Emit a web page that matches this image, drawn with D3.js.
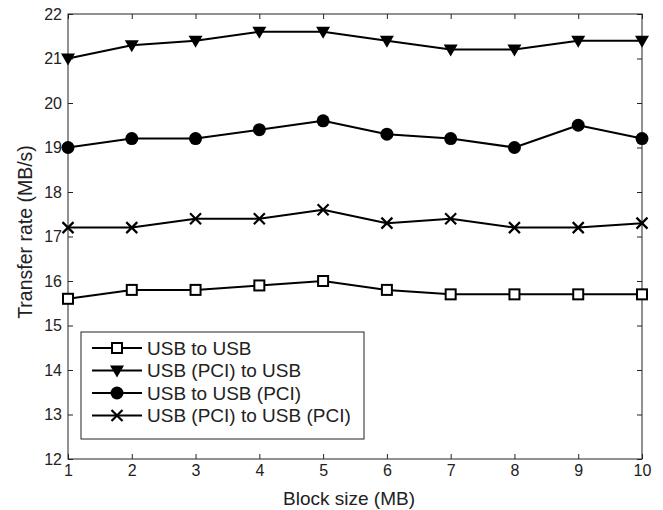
<html><head>
<script src="https://d3js.org/d3.v7.min.js"></script>
<style>
  body { margin: 0; background: #fff; }
  svg text { font-family: "Liberation Sans", Arial, sans-serif; fill: #222; }
</style>
</head>
<body>
<svg id="chart" width="663" height="510"></svg>
<script>

// block sizes along the x axis
const blockSizes = [1, 2, 3, 4, 5, 6, 7, 8, 9, 10];

// transfer rates (MB/s)
const usbToUsb       = [15.6, 15.8, 15.8, 15.9, 16.0, 15.8, 15.7, 15.7, 15.7, 15.7];
const pciToUsb       = [21.0, 21.3, 21.4, 21.6, 21.6, 21.4, 21.2, 21.2, 21.4, 21.4];
const usbToPci       = [19.0, 19.2, 19.2, 19.4, 19.6, 19.3, 19.2, 19.0, 19.5, 19.2];
const pciToPci       = [17.2, 17.2, 17.4, 17.4, 17.6, 17.3, 17.4, 17.2, 17.2, 17.3];

const seriesNames   = ["USB to USB", "USB (PCI) to USB", "USB to USB (PCI)", "USB (PCI) to USB (PCI)"];
const seriesMarkers = ["square", "triangle", "circle", "cross"];
const seriesValues  = [usbToUsb, pciToUsb, usbToPci, pciToPci];

const yTicks = [12, 13, 14, 15, 16, 17, 18, 19, 20, 21, 22];

let svg = d3.select("#chart");
let plotL = 68, plotR = 642, plotT = 14, plotB = 459;

let xScale = d3.scaleLinear().domain([1, 10]).range([plotL, plotR]);
let yScale = d3.scaleLinear().domain([12, 22]).range([plotB, plotT]);

// axes with inward ticks on all four sides
svg.append("g").attr("transform", `translate(0,${plotB})`)
   .call(d3.axisBottom(xScale).tickValues(blockSizes).tickFormat(d3.format("d"))
           .tickSize(-5).tickPadding(6));
svg.append("g").attr("transform", `translate(0,${plotT})`)
   .call(d3.axisTop(xScale).tickValues(blockSizes).tickSize(-5).tickFormat(""));
svg.append("g").attr("transform", `translate(${plotL},0)`)
   .call(d3.axisLeft(yScale).tickValues(yTicks).tickFormat(d3.format("d"))
           .tickSize(-5).tickPadding(6));
svg.append("g").attr("transform", `translate(${plotR},0)`)
   .call(d3.axisRight(yScale).tickValues(yTicks).tickSize(-5).tickFormat(""));

svg.selectAll(".domain").remove();
svg.selectAll(".tick line").attr("stroke", "#222");
svg.selectAll(".tick text").style("font-size", "16px").attr("fill", "#222");

svg.append("rect")
   .attr("x", plotL).attr("y", plotT)
   .attr("width", plotR - plotL).attr("height", plotB - plotT)
   .attr("fill", "none").attr("stroke", "#222").attr("stroke-width", 1);

// axis labels
svg.append("text")
   .attr("x", 349).attr("y", 505)
   .attr("text-anchor", "middle")
   .style("font-size", "19px")
   .text("Block size (MB)");
svg.append("text")
   .attr("transform", "translate(32,232) rotate(-90)")
   .attr("text-anchor", "middle")
   .style("font-size", "19.5px")
   .text("Transfer rate (MB/s)");

// marker drawing helper
function drawMarker(g, type, x, y) {
  if (type === "square") {
    g.append("rect").attr("x", x - 5).attr("y", y - 5).attr("width", 10).attr("height", 10)
     .attr("fill", "#fff").attr("stroke", "#000").attr("stroke-width", 2);
  } else if (type === "triangle") {
    g.append("path").attr("d", `M${x - 7},${y - 5} L${x + 7},${y - 5} L${x},${y + 7} Z`)
     .attr("fill", "#000");
  } else if (type === "circle") {
    g.append("circle").attr("cx", x).attr("cy", y).attr("r", 6.5).attr("fill", "#000");
  } else {
    g.append("path").attr("d", `M${x - 5.5},${y - 5.5} L${x + 5.5},${y + 5.5} M${x - 5.5},${y + 5.5} L${x + 5.5},${y - 5.5}`)
     .attr("stroke", "#000").attr("stroke-width", 2.2);
  }
}

let lineGen = d3.line().x((d, i) => xScale(blockSizes[i])).y(d => yScale(d));

seriesValues.forEach((vals, k) => {
  let g = svg.append("g");
  g.append("path").attr("d", lineGen(vals))
   .attr("fill", "none").attr("stroke", "#000").attr("stroke-width", 2)
   .attr("stroke-linejoin", "round");
  vals.forEach((v, i) => drawMarker(g, seriesMarkers[k], xScale(blockSizes[i]), yScale(v)));
});

// legend
let legend = svg.append("g");
legend.append("rect")
      .attr("x", 81).attr("y", 332).attr("width", 283).attr("height", 107)
      .attr("fill", "#fff").attr("stroke", "#222").attr("stroke-width", 1);

seriesNames.forEach((name, k) => {
  let y = 348 + k * 22.5;
  legend.append("line").attr("x1", 92).attr("x2", 142).attr("y1", y).attr("y2", y)
        .attr("stroke", "#000").attr("stroke-width", 2);
  drawMarker(legend, seriesMarkers[k], 117, y);
  legend.append("text").attr("x", 147).attr("y", y + 6.5)
        .style("font-size", "19px")
        .text(name);
});

</script>
</body>
</html>
